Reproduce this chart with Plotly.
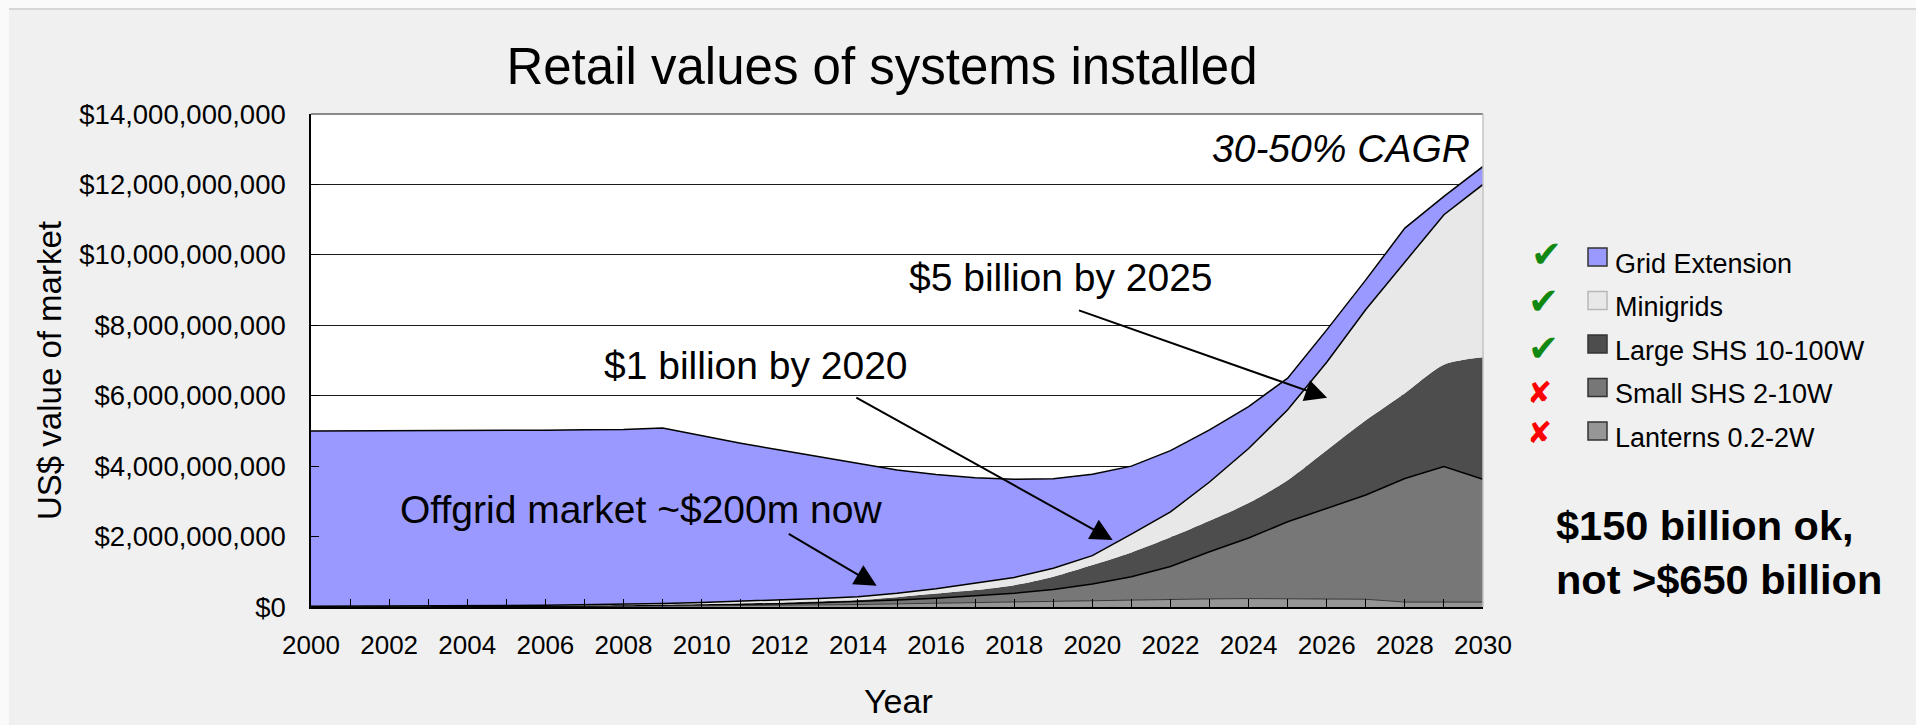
import plotly.graph_objects as go

# ---------------- data (values in US$ billions) ----------------
years = list(range(2000, 2031))

lanterns = [0.00, 0.00, 0.005, 0.005, 0.007, 0.01, 0.012, 0.015, 0.02, 0.025,
            0.03, 0.035, 0.045, 0.055, 0.07, 0.09, 0.11, 0.13, 0.15, 0.16,
            0.18, 0.20, 0.22, 0.23, 0.24, 0.23, 0.22, 0.22, 0.14, 0.14, 0.14]
small_shs = [0.01, 0.01, 0.007, 0.01, 0.011, 0.01, 0.013, 0.015, 0.02, 0.025,
             0.03, 0.035, 0.045, 0.065, 0.08, 0.11, 0.14, 0.18, 0.24, 0.34,
             0.47, 0.66, 0.93, 1.34, 1.72, 2.19, 2.58, 2.96, 3.51, 3.85, 3.49]
large_shs = [0.005, 0.005, 0.008, 0.007, 0.007, 0.01, 0.01, 0.01, 0.01, 0.015,
             0.02, 0.03, 0.03, 0.04, 0.05, 0.08, 0.13, 0.17, 0.23, 0.36,
             0.54, 0.69, 0.83, 0.88, 0.99, 1.18, 1.65, 2.12, 2.42, 2.89, 3.46]
minigrids = [0.005, 0.005, 0.005, 0.008, 0.01, 0.01, 0.015, 0.02, 0.03, 0.035,
             0.05, 0.06, 0.08, 0.08, 0.09, 0.11, 0.14, 0.19, 0.22, 0.24,
             0.27, 0.52, 0.72, 1.10, 1.55, 2.00, 2.50, 3.15, 3.73, 4.26, 4.91]
grid_ext = [4.98, 4.98, 4.975, 4.98, 4.975, 4.98, 4.97, 4.97, 4.96, 4.98,
            4.73, 4.49, 4.26, 4.03, 3.77, 3.50, 3.24, 3.00, 2.79, 2.54,
            2.31, 1.93, 1.74, 1.48, 1.19, 0.90, 0.92, 0.84, 0.96, 0.52, 0.51]

series_names = ["Lanterns 0.2-2W", "Small SHS 2-10W", "Large SHS 10-100W",
                "Minigrids", "Grid Extension"]
series_values = [lanterns, small_shs, large_shs, minigrids, grid_ext]
series_colors = ["#969696", "#777777", "#4d4d4d", "#e8e8e8", "#9999ff"]
series_lines = [("#3a3a3a", 1), ("#000000", 1.5), (None, 0), ("#000000", 1.5), ("#000000", 1.5)]
series_shape = ["linear", "linear", "spline", "linear", "linear"]
series_marks = ["✘", "✘", "✔", "✔", "✔"]

BILLION = 1e9
y_ticks = [0, 2, 4, 6, 8, 10, 12, 14]
x_label_years = list(range(2000, 2031, 2))

FONT = "Liberation Sans, Arial, Helvetica, sans-serif"

# ---------------- figure ----------------
fig = go.Figure()
for name, vals, col, (lc, lw), shp in zip(series_names, series_values, series_colors,
                                          series_lines, series_shape):
    fig.add_trace(go.Scatter(
        x=years, y=[v * BILLION for v in vals], name=name,
        mode="lines", stackgroup="one", fillcolor=col,
        line=dict(color=lc if lc else col, width=lw, shape=shp, smoothing=0.8),
        showlegend=False, hoverinfo="x+y+name",
    ))

W, H = 1916, 725
L, R, T, B = 311, 1483, 114, 607
pw, ph = R - L, B - T


def px(x):
    return (x - L) / pw


def py(y):
    return (B - y) / ph


fig.update_layout(
    width=W, height=H,
    margin=dict(l=L, r=W - R, t=T, b=H - B, pad=0),
    paper_bgcolor="#f0f0f0", plot_bgcolor="#ffffff",
    font=dict(family=FONT, color="#000000"),
    title=dict(text="Retail values of systems installed",
               font=dict(family=FONT, size=51, color="#000000"),
               x=882 / W, xanchor="center", xref="container",
               y=1 - 66 / H, yanchor="middle", yref="container"),
    showlegend=False,
)

fig.update_xaxes(
    range=[2000, 2030], tickmode="array", tickvals=years,
    ticktext=[str(y) if y in x_label_years else "" for y in years],
    ticks="inside", ticklen=8, tickcolor="#000000", tickwidth=1,
    showgrid=False, zeroline=False, showline=True, linecolor="#000000", linewidth=2,
    tickfont=dict(family=FONT, size=26, color="#000000"),
    ticklabelstandoff=14,
)
fig.update_yaxes(
    range=[0, 14 * BILLION], tickmode="array", tickvals=[v * BILLION for v in y_ticks],
    tickformat="$,.0f",
    ticks="inside", ticklen=8, tickcolor="#000000", tickwidth=1,
    showgrid=True, gridcolor="#1a1a1a", gridwidth=1,
    zeroline=False, showline=True, linecolor="#000000", linewidth=1.5,
    tickfont=dict(family=FONT, size=27.5, color="#000000"),
    ticklabelstandoff=18,
)

shapes = [
    # slide frame strips
    dict(type="rect", xref="paper", yref="paper", x0=px(0), x1=px(W), y0=py(9), y1=py(0),
         fillcolor="#fafafa", line=dict(width=0), layer="below"),
    dict(type="rect", xref="paper", yref="paper", x0=px(0), x1=px(9), y0=py(H), y1=py(0),
         fillcolor="#fafafa", line=dict(width=0), layer="below"),
    dict(type="line", xref="paper", yref="paper", x0=px(9), x1=px(W), y0=py(9), y1=py(9),
         line=dict(color="#d6d6d6", width=2)),
    # plot-area top and right border
    dict(type="line", xref="x domain", yref="y domain", x0=0, x1=1, y0=1, y1=1,
         line=dict(color="#8a8a8a", width=2)),
    dict(type="line", xref="x domain", yref="y domain", x0=1, x1=1, y0=0, y1=1,
         line=dict(color="#c4c4c4", width=1.5)),
]

annotations = []
# axis titles
annotations.append(dict(text="US$ value of market", xref="paper", yref="paper",
                        x=px(49), y=py(371), textangle=-90, showarrow=False,
                        xanchor="center", yanchor="middle",
                        font=dict(family=FONT, size=33, color="#000000")))
annotations.append(dict(text="Year", xref="paper", yref="paper",
                        x=px(898), y=py(701), showarrow=False,
                        xanchor="center", yanchor="middle",
                        font=dict(family=FONT, size=34, color="#000000")))

# manual legend (top entry = last series)
row_y = [257, 300.5, 344, 387.5, 431]
text_y = [263.5, 307, 350.5, 394, 437.5]
mark_pos = [(1546, 254), (1543, 301), (1543, 348), (1539, 392), (1540, 432)]
for i, idx in enumerate(range(len(series_names) - 1, -1, -1)):
    col = series_colors[idx]
    border = "#b8b8b8" if idx == 3 else "#333333"
    shapes.append(dict(type="rect", xref="paper", yref="paper",
                       x0=px(1588), x1=px(1607), y0=py(row_y[i] + 9), y1=py(row_y[i] - 9),
                       fillcolor=col, line=dict(color=border, width=1.5)))
    annotations.append(dict(text=series_names[idx], xref="paper", yref="paper",
                            x=px(1613), y=py(text_y[i]), showarrow=False,
                            xanchor="left", yanchor="middle",
                            font=dict(family=FONT, size=27, color="#000000")))
    mk = series_marks[idx]
    mx, my = mark_pos[i]
    annotations.append(dict(text=mk, xref="paper", yref="paper",
                            x=px(mx), y=py(my), showarrow=False,
                            xanchor="center", yanchor="middle",
                            font=dict(family="DejaVu Sans", size=37 if mk == "✔" else 30,
                                      color="#118811" if mk == "✔" else "#ff0000")))

# note on the right
annotations.append(dict(text="<b>$150 billion ok,<br>not >$650 billion</b>",
                        xref="paper", yref="paper", x=px(1554), y=py(552),
                        showarrow=False, xanchor="left", yanchor="middle", align="left",
                        font=dict(family=FONT, size=41.5, color="#000000")))

# in-plot text callouts
TXT = dict(family=FONT, size=39, color="#000000")
annotations += [
    dict(text="<i>30-50% CAGR</i>", x=2029.73, y=13.01 * BILLION, xref="x", yref="y",
         showarrow=False, xanchor="right", yanchor="middle", font=TXT),
    dict(text="$5 billion by 2025", x=2019.21, y=9.37 * BILLION, xref="x", yref="y",
         showarrow=False, xanchor="center", yanchor="middle", font=TXT),
    dict(text="$1 billion by 2020", x=2011.39, y=6.85 * BILLION, xref="x", yref="y",
         showarrow=False, xanchor="center", yanchor="middle", font=TXT),
    dict(text="Offgrid market ~$200m now", x=2008.45, y=2.76 * BILLION, xref="x", yref="y",
         showarrow=False, xanchor="center", yanchor="middle", font=TXT),
]
# arrows (head, tail)
arrows = [((2026.01, 5.94), (2019.62, 8.44)),
          ((2020.52, 1.90), (2013.92, 5.97)),
          ((2014.48, 0.60), (2012.19, 2.10))]
for (hx, hy), (tx, ty) in arrows:
    annotations.append(dict(text="", x=hx, y=hy * BILLION, ax=tx, ay=ty * BILLION,
                            xref="x", yref="y", axref="x", ayref="y",
                            showarrow=True, arrowhead=2, arrowsize=2.2, arrowwidth=2,
                            arrowcolor="#000000", standoff=0, startstandoff=0))

fig.update_layout(shapes=shapes, annotations=annotations)
fig.write_html("out.html")
